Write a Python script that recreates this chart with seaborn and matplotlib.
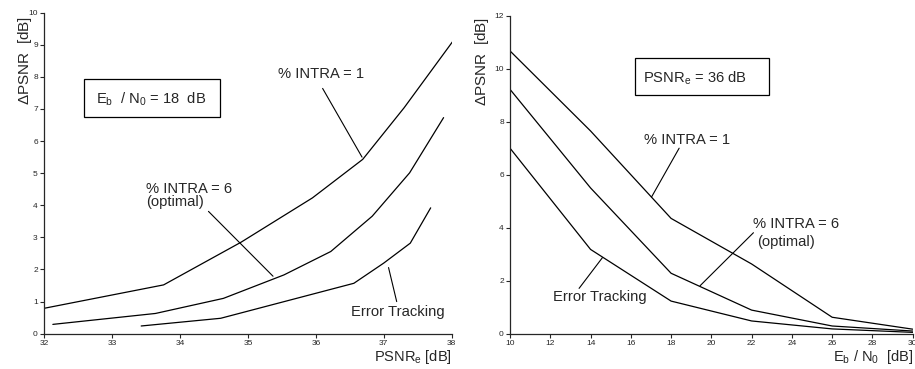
import matplotlib
matplotlib.use("Agg")
import matplotlib.pyplot as plt
from matplotlib.patches import Rectangle
import seaborn as sns

sns.set_style("ticks")
plt.rcParams["font.family"] = ["Liberation Sans", "DejaVu Sans"]
plt.rcParams["mathtext.fontset"] = "custom"
plt.rcParams["mathtext.rm"] = "Liberation Sans"
plt.rcParams["mathtext.it"] = "Liberation Sans:italic"

# Left panel: dPSNR versus PSNR_e at Eb/N0 = 18 dB
psnr_intra1 = [32.0, 33.76, 34.9, 35.95, 36.69, 37.3, 38.01]
dpsnr_intra1 = [0.79, 1.52, 2.85, 4.23, 5.43, 7.04, 9.09]
psnr_intra6 = [32.13, 33.64, 34.64, 35.53, 36.22, 36.83, 37.38, 37.88]
dpsnr_intra6 = [0.29, 0.63, 1.10, 1.83, 2.56, 3.66, 5.01, 6.73]
psnr_track = [33.43, 34.60, 36.56, 37.0, 37.39, 37.69]
dpsnr_track = [0.24, 0.48, 1.57, 2.20, 2.82, 3.92]

# Right panel: dPSNR versus Eb/N0 at PSNR_e = 36 dB
ebn0 = [10, 14, 18, 22, 26, 30]
dpsnr_b_intra1 = [10.67, 7.65, 4.35, 2.63, 0.62, 0.17]
dpsnr_b_intra6 = [9.22, 5.50, 2.28, 0.89, 0.29, 0.10]
dpsnr_b_track = [7.00, 3.18, 1.23, 0.48, 0.18, 0.05]

fig = plt.figure(figsize=(9.15, 3.69), dpi=100)
ax1 = fig.add_axes([0.0481, 0.0957, 0.4456, 0.870])
ax2 = fig.add_axes([0.5574, 0.0957, 0.4401, 0.8618])

line_kw = dict(color="black", linewidth=0.9, legend=False)
sns.lineplot(x=psnr_intra1, y=dpsnr_intra1, ax=ax1, **line_kw)
sns.lineplot(x=psnr_intra6, y=dpsnr_intra6, ax=ax1, **line_kw)
sns.lineplot(x=psnr_track, y=dpsnr_track, ax=ax1, **line_kw)

sns.lineplot(x=ebn0, y=dpsnr_b_intra1, ax=ax2, **line_kw)
sns.lineplot(x=ebn0, y=dpsnr_b_intra6, ax=ax2, **line_kw)
sns.lineplot(x=ebn0, y=dpsnr_b_track, ax=ax2, **line_kw)

for ax in (ax1, ax2):
    sns.despine(ax=ax)
    ax.spines["left"].set_linewidth(0.9)
    ax.spines["bottom"].set_linewidth(0.9)
    ax.tick_params(direction="out", length=3, width=0.8, labelsize=6, pad=1.5)

ax1.set_xlim(32, 38)
ax1.set_ylim(0, 10)
ax1.set_xticks(range(32, 39))
ax1.set_yticks(range(0, 11))
ax2.set_xlim(10, 30)
ax2.set_ylim(0, 12)
ax2.set_xticks(range(10, 31, 2))
ax2.set_yticks(range(0, 13, 2))

lab = 10.5
ax1.set_xlabel(r"PSNR$_\mathrm{e}$ [dB]", fontsize=lab)
ax1.xaxis.set_label_coords(1.0, -0.045)
ax1.xaxis.label.set_ha("right")
ax1.set_ylabel(r"$\Delta$PSNR  [dB]", fontsize=11)
ax1.yaxis.set_label_coords(-0.046, 0.850)
ax1.yaxis.label.set_va("center")
ax1.yaxis.label.set_ha("center")

ax2.set_xlabel(r"E$_\mathrm{b}$ / N$_\mathrm{0}$  [dB]", fontsize=lab)
ax2.xaxis.set_label_coords(1.0, -0.045)
ax2.xaxis.label.set_ha("right")
ax2.set_ylabel(r"$\Delta$PSNR  [dB]", fontsize=11)
ax2.yaxis.set_label_coords(-0.070, 0.856)
ax2.yaxis.label.set_va("center")
ax2.yaxis.label.set_ha("center")

ann = 10.6
lw_lead = 0.8

# Left panel annotations
ax1.add_patch(Rectangle((32.59, 6.76), 1.995, 1.17, facecolor="white",
                        edgecolor="black", linewidth=0.9, zorder=3))
ax1.text(33.575, 7.30, r"E$_\mathrm{b}$  / N$_\mathrm{0}$ = 18  dB", fontsize=ann,
         ha="center", va="center", zorder=4)
ax1.text(36.07, 8.08, "% INTRA = 1", fontsize=ann, ha="center", va="center")
ax1.plot([36.1, 36.68], [7.64, 5.5], color="black", linewidth=lw_lead)
ax1.text(33.5, 4.52, "% INTRA = 6", fontsize=ann, ha="left", va="center")
ax1.text(33.5, 4.10, "(optimal)", fontsize=ann, ha="left", va="center")
ax1.plot([34.42, 35.37], [3.81, 1.79], color="black", linewidth=lw_lead)
ax1.text(37.21, 0.66, "Error Tracking", fontsize=ann, ha="center", va="center")
ax1.plot([37.07, 37.19], [2.06, 1.0], color="black", linewidth=lw_lead)

# Right panel annotations
ax2.add_patch(Rectangle((16.21, 9.01), 6.67, 1.38, facecolor="white",
                        edgecolor="black", linewidth=0.9, zorder=3))
ax2.text(19.18, 9.63, r"PSNR$_\mathrm{e}$ = 36 dB", fontsize=ann, ha="center",
         va="center", zorder=4)
ax2.text(16.66, 7.3, "% INTRA = 1", fontsize=ann, ha="left", va="center")
ax2.plot([18.4, 17.03], [7.0, 5.16], color="black", linewidth=lw_lead)
ax2.text(22.06, 4.13, "% INTRA = 6", fontsize=ann, ha="left", va="center")
ax2.text(22.27, 3.47, "(optimal)", fontsize=ann, ha="left", va="center")
ax2.plot([22.09, 19.44], [3.81, 1.81], color="black", linewidth=lw_lead)
ax2.text(14.47, 1.37, "Error Tracking", fontsize=ann, ha="center", va="center")
ax2.plot([13.43, 14.59], [1.71, 2.87], color="black", linewidth=lw_lead)

fig.savefig("out.png", dpi=100)
